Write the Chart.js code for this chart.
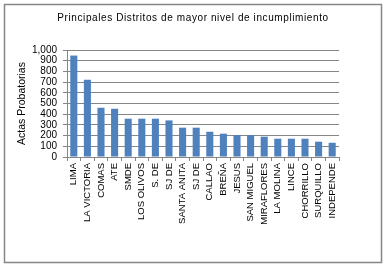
<!DOCTYPE html>
<html>
<head>
<meta charset="utf-8">
<script src="https://cdn.jsdelivr.net/npm/chart.js@4"></script>
<style>
html,body{margin:0;padding:0;background:#fff;}
#wrap{position:relative;width:386px;height:266px;}
</style>
</head>
<body>
<div id="wrap"><canvas id="c" width="386" height="266"></canvas></div>
<script>
const chartTitle = "Principales Distritos de mayor nivel de incumplimiento";
const yAxisTitle = "Actas Probatorias";
const categories = ["LIMA","LA VICTORIA","COMAS","ATE","SMDE","LOS OLIVOS","S. DE","SJ DE","SANTA ANITA","SJ DE","CALLAO","BREÑA","JESUS","SAN MIGUEL","MIRAFLORES","LA MOLINA","LINCE","CHORRILLO","SURQUILLO","INDEPENDE"];
const values = [948,722,460,451,358,358,358,342,274,274,236,218,205,205,190,171,171,171,143,133];
const yTicks = [0,100,200,300,400,500,600,700,800,900,1000];

const FONT = "'Liberation Sans', Arial, sans-serif";

const framePlugin = {
  id: 'frame',
  beforeDraw(chart) {
    const ctx = chart.ctx;
    ctx.save();
    ctx.fillStyle = '#fff';
    ctx.fillRect(0, 0, chart.width, chart.height);
    ctx.strokeStyle = '#868686';
    ctx.lineWidth = 1.5;
    ctx.strokeRect(4.5, 4.5, 377, 258);
    ctx.restore();
  },
  afterDraw(chart) {
    const ctx = chart.ctx;
    ctx.save();
    ctx.fillStyle = '#000';
    ctx.font = "10px " + FONT;
    if ('letterSpacing' in ctx) ctx.letterSpacing = '0.6px';
    ctx.textAlign = 'center';
    ctx.textBaseline = 'middle';
    ctx.fillText(chartTitle, 193, 18);
    ctx.restore();
  }
};

new Chart(document.getElementById('c'), {
  type: 'bar',
  data: {
    labels: categories,
    datasets: [{
      data: values,
      backgroundColor: '#4F81BD',
      borderWidth: 0,
      barPercentage: 0.52,
      categoryPercentage: 1.0
    }]
  },
  options: {
    responsive: false,
    animation: false,
    devicePixelRatio: 1,
    layout: { padding: { left: 0, right: 47, top: 50, bottom: 0 } },
    plugins: { legend: { display: false }, title: { display: false }, tooltip: { enabled: false } },
    scales: {
      x: {
        afterFit(s) { s.height = 109; },
        grid: { display: true, drawOnChartArea: false, drawTicks: true, tickLength: 4, color: '#868686', offset: true },
        border: { display: true, color: '#868686', width: 1 },
        ticks: { color: '#000', font: { family: FONT, size: 9.5 }, maxRotation: 90, minRotation: 90, autoSkip: false, padding: 2 }
      },
      y: {
        min: 0, max: 1000,
        afterFit(s) { s.width = 67; },
        afterBuildTicks(s) { s.ticks = yTicks.map(v => ({ value: v })); },
        grid: { color: '#868686', lineWidth: 1, tickLength: 4, drawTicks: true },
        border: { display: true, color: '#868686', width: 1 },
        ticks: { color: '#000', font: { family: FONT, size: 10 }, padding: 6, autoSkip: false,
          callback: v => v.toLocaleString('en-US') },
        title: { display: true, text: yAxisTitle, color: '#000', font: { family: FONT, size: 10.5 }, padding: { top: 16, bottom: 0 } }
      }
    }
  },
  plugins: [framePlugin]
});
</script>
</body>
</html>
